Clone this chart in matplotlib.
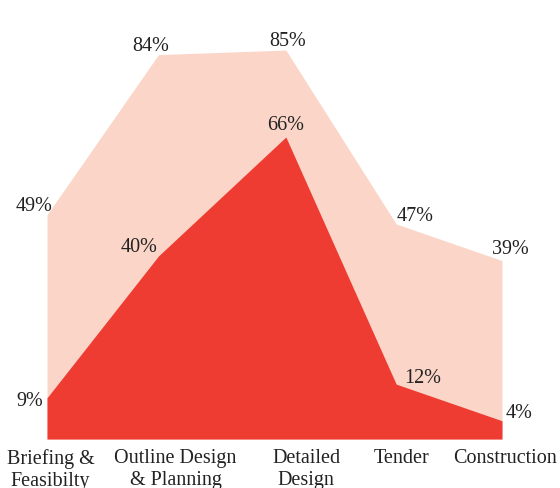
import matplotlib.pyplot as plt

# etapas del proyecto y porcentajes de cada serie
stages = ["Briefing &\nFeasibilty", "Outline Design\n& Planning", "Detailed\nDesign",
          "Tender", "Construction"]
stage_x = [0, 0.98, 2.1, 3.07, 4.0]
label_x = [0.03, 1.13, 2.28, 3.12, 4.03]
total = [49, 84, 85, 47, 39]
core = [9, 40, 66, 12, 4]

# desplazamiento (px) de cada etiqueta respecto a su punto
total_off = [(6, 5, "right"), (-8, 5, "center"), (2, 5, "center"), (0, 4, "left"), (8, 8, "center")]
core_off = [(-4, -7, "right"), (-1, 5, "right"), (0, 8, "center"), (8, 2, "left"), (4, 4, "left")]

plt.rcParams["font.family"] = ["Liberation Serif", "DejaVu Serif"]
ink = "#222222"

fig = plt.figure(figsize=(5.6, 4.89), dpi=100)
ax = fig.add_axes([0, 0, 1, 1])
ax.fill_between(stage_x, 0, total, color="#fbd6c8", linewidth=0)
ax.fill_between(stage_x, 0, core, color="#ee3c33", linewidth=0)

for vals, offs in ((total, total_off), (core, core_off)):
    for x, v, (dx, dy, ha) in zip(stage_x, vals, offs):
        ax.annotate(f"{v}%", (x, v), xytext=(dx, dy), textcoords="offset pixels",
                    ha=ha, va="baseline", fontsize=14.5, color=ink)

for x, s in zip(label_x, stages):
    ax.text(x, -1.9, s, ha="center", va="top", fontsize=14.5, color=ink,
            linespacing=1.25)

ax.set_xlim(-0.413, 4.51)
ax.set_ylim(-10.7, 96.15)
ax.axis("off")
fig.savefig("out.png", dpi=100)
